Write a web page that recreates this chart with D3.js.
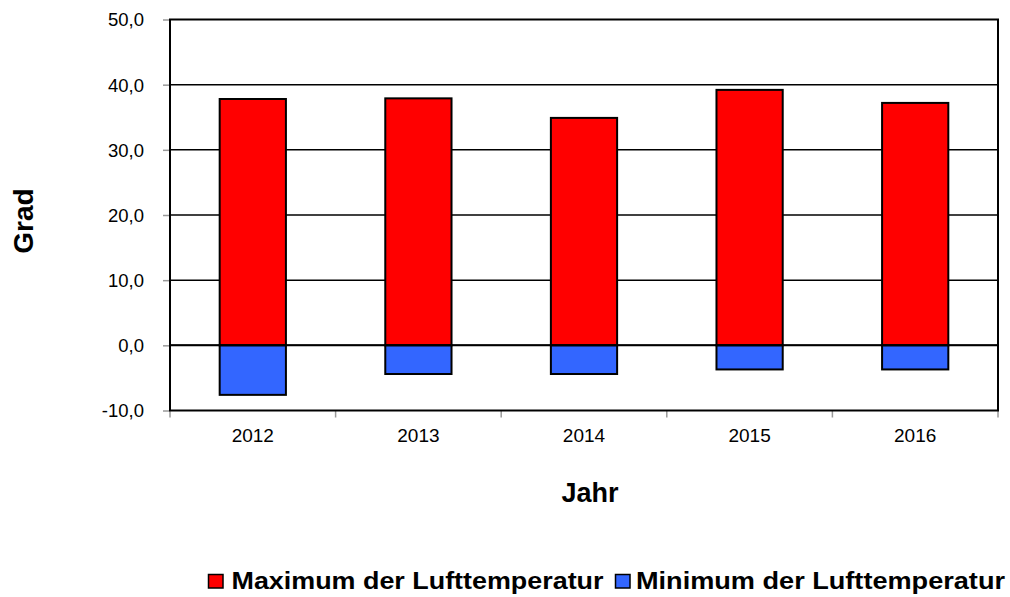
<!DOCTYPE html>
<html><head><meta charset="utf-8">
<script src="https://cdn.jsdelivr.net/npm/d3@7"></script>
<style>body{margin:0;background:#fff;} svg{display:block;font-family:"Liberation Sans",Arial,sans-serif;}</style>
</head><body>
<svg id="c" width="1010" height="597"></svg>
<script>
const years = ["2012","2013","2014","2015","2016"];
const maxTemp = [37.8, 37.9, 34.9, 39.2, 37.2];
const minTemp = [-7.6, -4.4, -4.4, -3.7, -3.7];
const yTicks = [-10, 0, 10, 20, 30, 40, 50];
const seriesNames = ["Maximum der Lufttemperatur", "Minimum der Lufttemperatur"];
const colors = ["#ff0000", "#3366ff"];

const svg = d3.select("#c");
const L = 170, R = 998, T = 19.5, B = 410.5;
const x = d3.scaleBand().domain(years).range([L, R]).paddingInner(0.6).paddingOuter(0.3);
const xb = d3.scaleBand().domain(years).range([L, R]);
const y = d3.scaleLinear().domain([-10, 50]).range([B, T]);

// gridlines
svg.append("g").selectAll("line").data(yTicks.filter(d => d > -10 && d < 50)).join("line")
  .attr("x1", L).attr("x2", R).attr("y1", d => y(d)).attr("y2", d => y(d))
  .attr("stroke", "#000").attr("stroke-width", 1.5);

// y axis
const ya = d3.axisLeft(y).tickValues(yTicks).tickSize(7).tickPadding(19)
  .tickFormat(d => d3.format(".1f")(d).replace(".", ",").replace("\u2212", "-"));
const gy = svg.append("g").attr("transform", `translate(${L},0)`).call(ya)
  .attr("font-size", null).attr("font-family", null);
gy.select(".domain").remove();
gy.selectAll(".tick line").attr("stroke", "#999").attr("stroke-width", 1.5);
gy.selectAll("text").style("font-size", "18.5px").attr("fill", "#000").attr("dy", "0.35em");

// x axis ticks at boundaries
const bounds = years.map(d => xb(d)).concat([R]);
svg.append("g").selectAll("line").data(bounds).join("line")
  .attr("x1", d => d).attr("x2", d => d).attr("y1", B).attr("y2", B + 7)
  .attr("stroke", "#999").attr("stroke-width", 1.5);
svg.append("g").selectAll("text").data(years).join("text")
  .attr("x", d => xb(d) + xb.bandwidth() / 2).attr("y", 442)
  .attr("text-anchor", "middle").style("font-size", "19px").text(d => d);

// bars
const bw = x.bandwidth();
svg.append("g").selectAll("rect").data(years).join("rect")
  .attr("x", d => x(d)).attr("width", bw)
  .attr("y", (d, i) => y(maxTemp[i])).attr("height", (d, i) => y(0) - y(maxTemp[i]))
  .attr("fill", colors[0]).attr("stroke", "#000").attr("stroke-width", 2);
svg.append("g").selectAll("rect").data(years).join("rect")
  .attr("x", d => x(d)).attr("width", bw)
  .attr("y", y(0)).attr("height", (d, i) => y(minTemp[i]) - y(0))
  .attr("fill", colors[1]).attr("stroke", "#000").attr("stroke-width", 2);

// zero line
svg.append("line").attr("x1", L).attr("x2", R).attr("y1", y(0)).attr("y2", y(0))
  .attr("stroke", "#000").attr("stroke-width", 2);

// plot border
svg.append("rect").attr("x", L).attr("y", T).attr("width", R - L).attr("height", B - T)
  .attr("fill", "none").attr("stroke", "#000").attr("stroke-width", 2);

// axis titles
svg.append("text").attr("x", 590).attr("y", 502).attr("text-anchor", "middle")
  .style("font-size", "27px").attr("font-weight", "bold").text("Jahr");
svg.append("text").attr("transform", "translate(33,221) rotate(-90)").attr("text-anchor", "middle")
  .style("font-size", "28px").attr("font-weight", "bold").text("Grad");

// legend
const lg = svg.append("g");
const lx = [208.5, 615.5], tx = [231.5, 636], tw = [372, 369];
seriesNames.forEach((n, i) => {
  lg.append("rect").attr("x", lx[i]).attr("y", 574.5).attr("width", 14.5).attr("height", 13.5)
    .attr("fill", colors[i]).attr("stroke", "#000").attr("stroke-width", 1.5);
  lg.append("text").attr("x", tx[i]).attr("y", 588.5).style("font-size", "24px")
    .attr("font-weight", "bold").attr("textLength", tw[i]).attr("lengthAdjust", "spacingAndGlyphs").text(n);
});
</script>
</body></html>
